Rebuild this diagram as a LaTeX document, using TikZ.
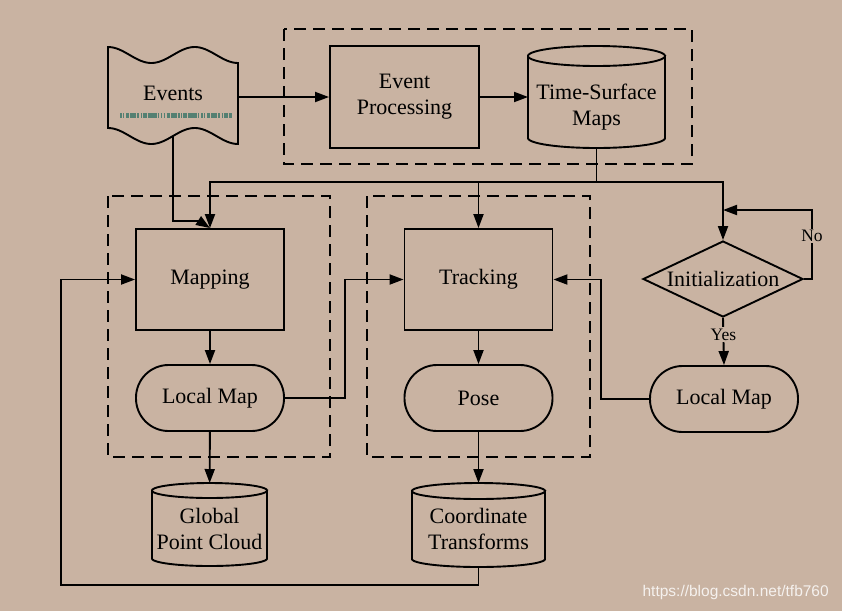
\documentclass[tikz,border=0pt]{standalone}
\usepackage{fontspec}
\setmainfont{Liberation Serif}
\newfontfamily\wmfont{Liberation Sans}
\usetikzlibrary{arrows.meta,shapes.geometric}
\definecolor{bg}{RGB}{201,179,162}
\definecolor{barcol}{RGB}{84,128,114}
\newcommand\mycyl[5]{% cx, top, w, h, ry  (pixel coords)
  \draw plot[domain=180:0,samples=50] ({#1+#3/2*cos(\x)},{#2+#4-#5+#5*sin(\x)}) -- (#1+#3/2,#2+#5)
        (#1-#3/2,#2+#5) -- (#1-#3/2,#2+#4-#5);
  \draw plot[domain=0:360,samples=80] ({#1+#3/2*cos(\x)},{#2+#5+#5*sin(\x)}) -- cycle;}
\begin{document}
\begin{tikzpicture}[x=1pt,y=-1pt,line width=1.9pt,
  font=\fontsize{22}{26}\selectfont,
  box/.style={draw,minimum width=148pt,minimum height=101pt,inner sep=0pt,align=center},
  term/.style={draw,rounded corners=32.5pt,minimum width=148pt,minimum height=66pt,inner sep=0pt},
  ghost/.style={inner sep=0pt,outer sep=0pt},
  arr/.style={-{Triangle[length=14pt,width=10pt]}},
  grp/.style={draw,dash pattern=on 12pt off 7pt},
  lbl/.style={fill=bg,inner sep=1.5pt,font=\fontsize{17.5}{20}\selectfont}]
\fill[bg] (0,0) rectangle (842,611);
\useasboundingbox (0,0) rectangle (842,611);

% dashed groups
\draw[grp] (284,29) rectangle (692,164);
\draw[grp] (108,196) rectangle (330,457);
\draw[grp] (367,196) rectangle (590,457);

% Events (wavy document)
\draw plot[domain=0:130,samples=60] ({108+\x},{55-8*cos(\x*4.154)})
   -- plot[domain=130:0,samples=60] ({108+\x},{136-8*cos(\x*4.154)}) -- cycle;
\node[ghost,minimum width=130pt,minimum height=98pt] (events) at (173,96) {};
\node[anchor=base] (evtxt) at (173,100) {Events};
\draw[barcol,line width=5pt,dash pattern=on 1.5pt off 1.5pt on 1pt off 2pt on 3pt off 1pt on 6pt off 1pt on 2pt off 1.5pt on 1pt off 1pt on 4pt off 1pt on 9pt off 1pt on 1pt off 2pt]
  (120,115) -- (232,115);

% top row
\node[box,minimum width=149pt,minimum height=102pt] (ep) at (404.5,97) {Event\\Processing};
\mycyl{596.5}{46}{137}{102}{10}
\node[ghost,minimum width=137pt,minimum height=102pt] (tsm) at (596.5,97) {};
\node[align=center] (tsmtxt) at (596.5,107) {Time-Surface\\Maps};

% middle
\node[box] (map) at (210,279.5) {Mapping};
\node[box] (track) at (478.5,279.5) {Tracking};
\node[term] (lml) at (210,398) {Local Map};
\node[term] (pose) at (478.5,398) {Pose};
\node[draw,diamond,aspect=2.1,minimum width=160pt,minimum height=76pt,inner sep=0pt] (init) at (723,279) {Initialization};
\node[term] (lmr) at (724,399) {Local Map};

% bottom cylinders
\mycyl{209.5}{483}{115}{83}{7.5}
\node[ghost,minimum width=115pt,minimum height=83pt] (gpc) at (209.5,524.5) {};
\node[align=center] (gpctxt) at (209.5,529) {Global\\Point Cloud};
\mycyl{478.5}{483}{133}{84}{8}
\node[ghost,minimum width=133pt,minimum height=84pt] (ct) at (478.5,525) {};
\node[align=center] (cttxt) at (478.5,529) {Coordinate\\Transforms};

% connectors
\draw[arr] (ep.west -| events.east) -- (ep.west);
\draw[arr] (ep.east) -- (ep.east -| tsm.west);
\coordinate (bus) at (596.5,182);
\draw (tsm.south) -- (bus);
\draw[arr] (bus) -| (map.north);
\draw[arr] (bus) -| (track.north);
\draw[arr] (bus) -| (init.north);
\coordinate (evb) at (173,136);
\coordinate (evk) at (199,221);
\draw[arr] (evb) |- (evk) -- (map.north);
\draw[arr] (map) -- (lml);
\draw[arr] (track) -- (pose);
\draw[arr] (lml) -- (gpc);
\draw[arr] (pose) -- (ct);
\coordinate (k1) at (345,398);
\draw[arr] (lml.east) -- (k1) |- (track.west);
\coordinate (k2) at (601,399);
\draw[arr] (lmr.west) -- (k2) |- (track.east);
\draw[arr] (init.south) -- node[lbl,pos=0.35] (yes) {Yes} (lmr.north);
\coordinate (notop) at (812,210);
\draw[arr] (init.east) -| (notop) -- (notop -| init.north);
\node[lbl] (no) at (812,236) {No};
\coordinate (fb) at (61,585);
\draw[arr] (ct.south) |- (fb) |- (map.west);

% watermark
\node[anchor=east,text=white!82!bg,font=\wmfont\fontsize{15.5}{18}\selectfont] (wm) at (833,592) {https://blog.csdn.net/tfb760};
\end{tikzpicture}
\end{document}
